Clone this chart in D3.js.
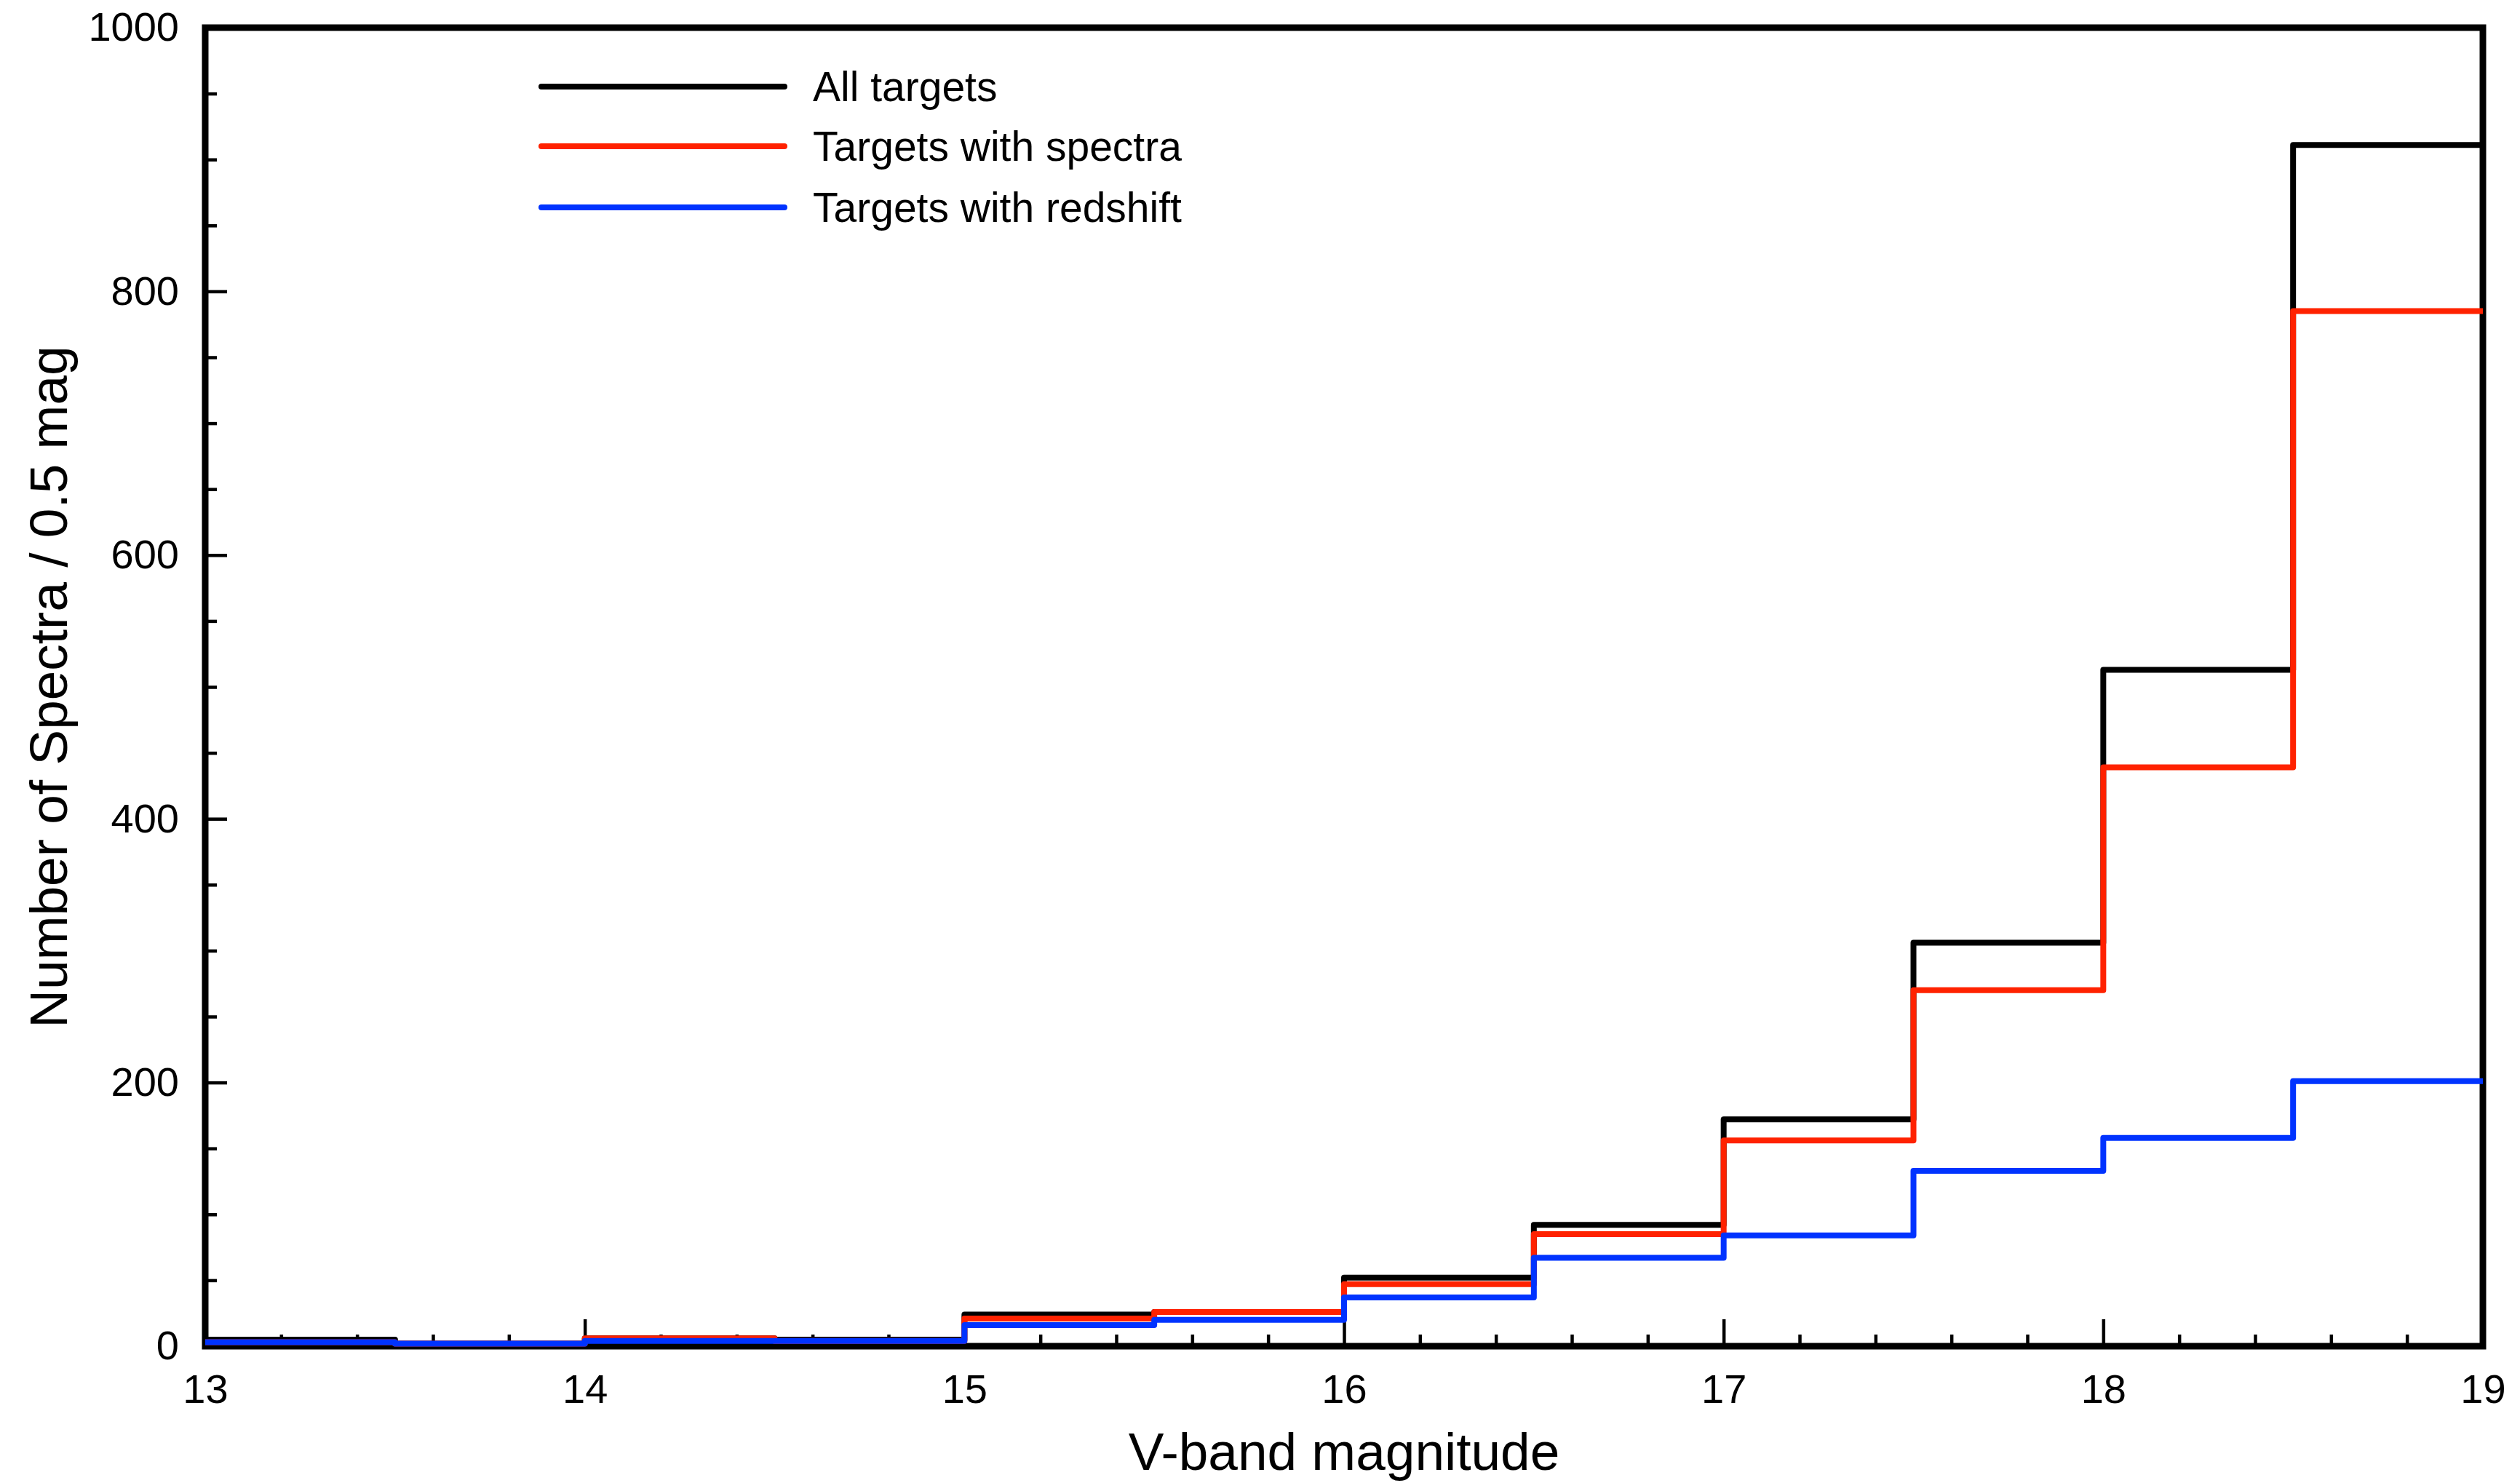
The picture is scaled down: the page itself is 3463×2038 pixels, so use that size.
<!DOCTYPE html>
<html>
<head>
<meta charset="utf-8">
<script src="https://cdn.jsdelivr.net/npm/d3@7"></script>
<style>
  body { margin: 0; background: #fff; }
  text { font-family: "Liberation Sans", Arial, Helvetica, sans-serif; fill: #000; }
</style>
</head>
<body>
<svg id="chart"></svg>
<script>
// Histogram of targets per 0.5 mag bin (V band)

// bin starts (mag); each bin is 0.5 mag wide
const binStarts = [13, 13.5, 14, 14.5, 15, 15.5, 16, 16.5, 17, 17.5, 18, 18.5]
const binWidth = 0.5

// counts per bin
const allTargets   = [5, 2, 6, 5, 24, 26, 52, 92, 172, 306, 513, 911]
const withSpectra  = [3, 2, 6, 4, 21, 26, 47, 85, 156, 270, 439, 785]
const withRedshift = [3, 2, 4, 4, 16, 20, 37, 67, 84, 133, 158, 201]

const seriesNames  = ["All targets", "Targets with spectra", "Targets with redshift"]
const seriesColors = ["#000000", "#ff2200", "#0033ff"]

// tick values
const xMajor = [13, 14, 15, 16, 17, 18, 19]
const xMinor = d3.range(13.2, 19, 0.2).filter(v => Math.abs(v - Math.round(v)) > 0.01)
const yMajor = [0, 200, 400, 600, 800, 1000]
const yMinor = d3.range(50, 1000, 50).filter(v => v % 200 != 0)

const W = 3463, H = 2038
const margin = {top: 38, right: 51, bottom: 188, left: 282}

const svg = d3.select("#chart").attr("width", W).attr("height", H)

const x = d3.scaleLinear().domain([13, 19]).range([margin.left, W - margin.right])
const y = d3.scaleLinear().domain([0, 1000]).range([H - margin.bottom, margin.top])

// axes: ticks point inward
const gx = svg.append("g").attr("transform", `translate(0,${y(0)})`)
gx.call(d3.axisBottom(x).tickValues(xMajor).tickSize(-37).tickPadding(38).tickFormat(d3.format("d")))
gx.append("g").call(d3.axisBottom(x).tickValues(xMinor).tickSize(-16).tickFormat(""))

const gy = svg.append("g").attr("transform", `translate(${x(13)},0)`)
gy.call(d3.axisLeft(y).tickValues(yMajor).tickSize(-30).tickPadding(36).tickFormat(d3.format("d")))
gy.append("g").call(d3.axisLeft(y).tickValues(yMinor).tickSize(-16).tickFormat(""))

svg.selectAll(".domain").remove()
svg.selectAll(".tick line").attr("stroke", "#000").attr("stroke-width", 4.5)
svg.selectAll(".tick text").style("font-size", "56px")

// plot frame
svg.append("rect")
  .attr("x", x(13)).attr("y", y(1000))
  .attr("width", x(19) - x(13)).attr("height", y(0) - y(1000))
  .attr("fill", "none").attr("stroke", "#000").attr("stroke-width", 9)

// step lines
const stepLine = d3.line()
  .x(d => x(d[0]))
  .y(d => y(d[1]))
  .curve(d3.curveStepAfter)

const toSteps = vals => {
  let pts = binStarts.map((b, i) => [b, vals[i]])
  pts.push([binStarts[binStarts.length - 1] + binWidth, vals[vals.length - 1]])
  return pts
}

const allSeries = [allTargets, withSpectra, withRedshift]
allSeries.forEach((vals, i) => {
  svg.append("path")
    .attr("d", stepLine(toSteps(vals)))
    .attr("fill", "none")
    .attr("stroke", seriesColors[i])
    .attr("stroke-width", 8)
    .attr("stroke-linejoin", "round")
})

// legend
const legendY = [119, 201, 285]
const legend = svg.append("g")
seriesNames.forEach((name, i) => {
  legend.append("line")
    .attr("x1", 744).attr("x2", 1078)
    .attr("y1", legendY[i]).attr("y2", legendY[i])
    .attr("stroke", seriesColors[i]).attr("stroke-width", 8)
    .attr("stroke-linecap", "round")
  legend.append("text")
    .attr("x", 1117).attr("y", legendY[i]).attr("dy", "0.35em")
    .style("font-size", "57px")
    .text(name)
})

// axis titles
svg.append("text")
  .attr("x", x(16)).attr("y", 2020)
  .attr("text-anchor", "middle")
  .style("font-size", "73px")
  .text("V-band magnitude")

svg.append("text")
  .attr("transform", `translate(92,${(y(0) + y(1000)) / 2}) rotate(-90)`)
  .attr("text-anchor", "middle")
  .style("font-size", "73px")
  .text("Number of Spectra / 0.5 mag")
</script>
</body>
</html>
